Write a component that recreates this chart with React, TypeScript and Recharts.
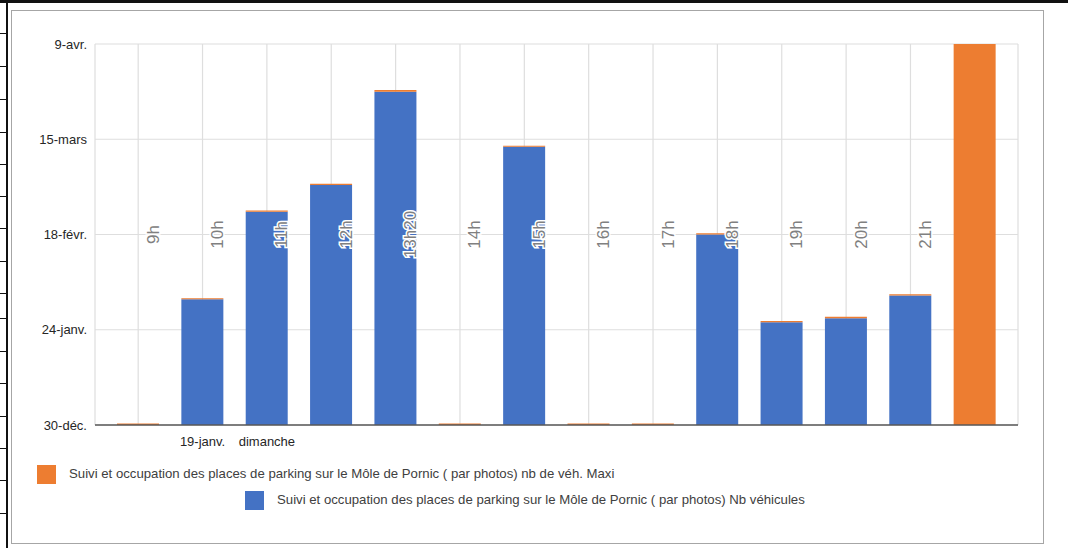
import React from 'react';
import { ComposedChart, Bar, Line, XAxis, YAxis, CartesianGrid, LabelList } from 'recharts';

const categories = ['9h', '10h', '11h', '12h', '13h20', '14h', '15h', '16h', '17h', '18h', '19h', '20h', '21h', ''];
const axisLabels = ['', '19-janv.', 'dimanche', '', '', '', '', '', '', '', '', '', '', ''];
const nbVehicules = [0, 33, 56, 63, 87.5, 0, 73, 0, 0, 50, 27, 28, 34, 0];
const nbMaxi = [0.4, 0.3, 0.3, 0.3, 0.4, 0.4, 0.3, 0.4, 0.4, 0.3, 0.3, 0.4, 0.3, 100];
const labelLevel = [50, 50, 50, 50, 50, 50, 50, 50, 50, 50, 50, 50, 50, 50];
const yTicks = [0, 25, 50, 75, 100];
const yTickLabels = ['30-déc.', '24-janv.', '18-févr.', '15-mars', '9-avr.'];

const seriesMaxi = 'Suivi et occupation des places de parking sur le Môle de Pornic ( par photos) nb de véh. Maxi';
const seriesNb = 'Suivi et occupation des places de parking sur le Môle de Pornic ( par photos) Nb véhicules';

const font = '"Liberation Sans", Arial, sans-serif';

const chartData = categories.map((c, i) => ({
  name: c,
  axis: axisLabels[i],
  nb: nbVehicules[i],
  maxi: nbMaxi[i],
  level: labelLevel[i],
}));

const RotatedLabel = (props: any) => {
  const { x, y, value } = props;
  if (!value) return null;
  const cx = x + 15;
  return (
    <text
      x={cx}
      y={y}
      transform={`rotate(-90 ${cx} ${y})`}
      textAnchor="middle"
      dominantBaseline="central"
      fontSize={17}
      fontFamily={font}
      fill="#808080"
      stroke="#ffffff"
      strokeWidth={3}
      paintOrder="stroke"
    >
      {value}
    </text>
  );
};

const rowLines = [33, 66, 99, 132, 164, 196, 228, 261, 293, 318, 351, 383, 416, 448, 480, 513];

export default function App() {
  return (
    <div style={{ position: 'fixed', left: 0, top: 0, width: 1068, height: 548, background: '#fff', overflow: 'hidden' }}>
      {/* spreadsheet cell borders behind the chart */}
      <div style={{ position: 'absolute', left: 0, top: 0, width: 1068, height: 3, background: '#111' }} />
      <div style={{ position: 'absolute', left: 6, top: 0, width: 2, height: 548, background: '#111' }} />
      {rowLines.map((y) => (
        <div key={y} style={{ position: 'absolute', left: 0, top: y, width: 7, height: 1, background: '#111' }} />
      ))}
      <div
        style={{
          position: 'absolute',
          left: 11,
          top: 10,
          width: 1033,
          height: 534,
          border: '1px solid #a6a6a6',
          boxSizing: 'border-box',
        }}
      />
      <div style={{ position: 'absolute', left: 0, top: 0 }}>
        <ComposedChart
          width={1068}
          height={548}
          data={chartData}
          margin={{ top: 44, right: 50, left: 0, bottom: 103 }}
          barSize={42}
        >
          <CartesianGrid stroke="#dedede" strokeWidth={1.2} />
          <XAxis
            dataKey="axis"
            height={20}
            padding={{ left: 11, right: 11 }}
            axisLine={{ stroke: '#595959', strokeWidth: 1.3 }}
            tickLine={false}
            interval={0}
            tickMargin={6}
            tick={{ fontSize: 13, fill: '#262626', fontFamily: font }}
          />
          <YAxis
            domain={[0, 100]}
            ticks={yTicks}
            width={95}
            axisLine={false}
            tickLine={false}
            tickSize={0}
            tickMargin={8}
            tickFormatter={(v: number) => yTickLabels[yTicks.indexOf(v)]}
            tick={{ fontSize: 13, fill: '#262626', fontFamily: font }}
          />
          <Bar dataKey="nb" stackId="a" fill="#4472c4" isAnimationActive={false} />
          <Bar dataKey="maxi" stackId="a" fill="#ed7d31" isAnimationActive={false} />
          <Line dataKey="level" stroke="none" dot={false} activeDot={false} isAnimationActive={false}>
            <LabelList dataKey="name" content={RotatedLabel} />
          </Line>
        </ComposedChart>
      </div>
      {/* legend */}
      <div style={{ position: 'absolute', left: 37, top: 465, width: 19, height: 19, background: '#ed7d31' }} />
      <div
        style={{
          position: 'absolute',
          left: 69,
          top: 466,
          fontSize: 13.2,
          fontFamily: font,
          color: '#404040',
          whiteSpace: 'nowrap',
        }}
      >
        {seriesMaxi}
      </div>
      <div style={{ position: 'absolute', left: 245, top: 491, width: 19, height: 19, background: '#4472c4' }} />
      <div
        style={{
          position: 'absolute',
          left: 277,
          top: 492,
          fontSize: 13.2,
          fontFamily: font,
          color: '#404040',
          whiteSpace: 'nowrap',
        }}
      >
        {seriesNb}
      </div>
    </div>
  );
}
